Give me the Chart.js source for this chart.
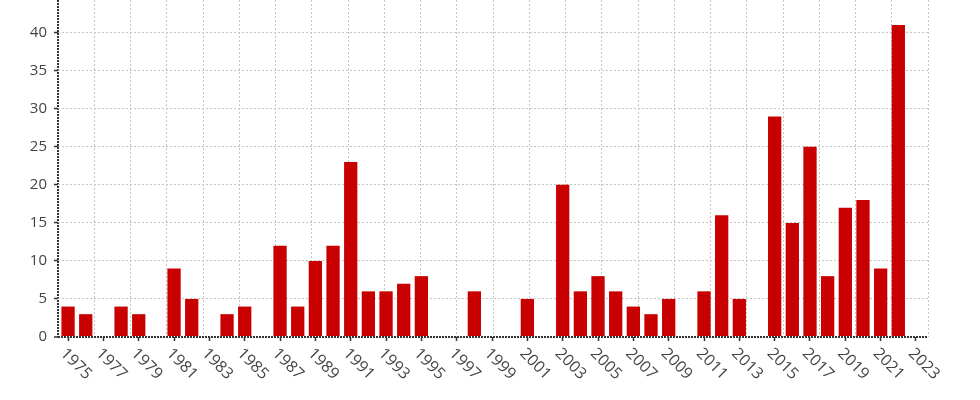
<!DOCTYPE html>
<html>
<head>
<meta charset="utf-8">
<script src="https://cdn.jsdelivr.net/npm/chart.js@4.4.0/dist/chart.umd.min.js"></script>
<style>
  html, body { margin: 0; padding: 0; background: #fff; }
  #wrap { width: 980px; height: 400px; }
</style>
</head>
<body>
<div id="wrap"><canvas id="bar-chart"></canvas></div>
<script>
"use strict";

const years = [
  1975, 1976, 1977, 1978, 1979, 1980, 1981, 1982, 1983, 1984, 1985, 1986,
  1987, 1988, 1989, 1990, 1991, 1992, 1993, 1994, 1995, 1996, 1997, 1998,
  1999, 2000, 2001, 2002, 2003, 2004, 2005, 2006, 2007, 2008, 2009, 2010,
  2011, 2012, 2013, 2014, 2015, 2016, 2017, 2018, 2019, 2020, 2021, 2022,
];
const counts = [
  4, 3, 0, 4, 3, 0, 9, 5, 0, 3, 4, 0,
  12, 4, 10, 12, 23, 6, 6, 7, 8, 0, 0, 6,
  0, 0, 5, 0, 20, 6, 8, 6, 4, 3, 5, 0,
  6, 16, 5, 0, 29, 15, 25, 8, 17, 18, 9, 41,
];
const tickYears = [
  1975, 1977, 1979, 1981, 1983, 1985, 1987, 1989, 1991, 1993, 1995, 1997,
  1999, 2001, 2003, 2005, 2007, 2009, 2011, 2013, 2015, 2017, 2019, 2021, 2023,
];
const yTicks = [0, 5, 10, 15, 20, 25, 30, 35, 40];

Chart.defaults.font.family = "'Open Sans'";

const GRID = "#c4c4c4";
const AXIS = "#333";
// the axis lines are the dark dashed grid line at value 0
const isZero = (ctx) => ctx.tick && ctx.tick.value === 0;

// year labels run down to the right, which the built-in rotation can't do
const yearLabels = {
  id: "yearLabels",
  afterDraw(chart) {
    const { ctx } = chart;
    const x = chart.scales.x;
    ctx.save();
    ctx.font = "16px 'Open Sans'";
    ctx.fillStyle = "#444";
    ctx.textAlign = "left";
    ctx.textBaseline = "middle";
    tickYears.forEach((year) => {
      ctx.save();
      ctx.translate(x.getPixelForValue(year) - 5, x.top + 14);
      ctx.rotate(Math.PI / 4);
      ctx.fillText(String(year), 0, 0);
      ctx.restore();
    });
    ctx.restore();
  },
};

new Chart(document.getElementById("bar-chart"), {
  type: "bar",
  data: {
    datasets: [
      {
        label: "count",
        data: years.map((year, i) => ({ x: year, y: counts[i] })),
        backgroundColor: "#c80000",
        borderWidth: 0,
        categoryPercentage: 0.8,
        barPercentage: 0.94,
        xAxisID: "x",
        yAxisID: "y",
      },
    ],
  },
  options: {
    responsive: true,
    maintainAspectRatio: false,
    animation: false,
    layout: { padding: { left: 0, right: 52, top: 0, bottom: 0 } },
    plugins: {
      legend: { display: false },
      tooltip: { enabled: false },
    },
    scales: {
      x: {
        type: "linear",
        position: "bottom",
        min: 1974.43,
        max: 2023.68,
        offset: false,
        afterBuildTicks: (scale) => {
          scale.ticks = tickYears.map((v) => ({ value: v }));
        },
        afterFit: (scale) => {
          scale.height = 63;
          scale.paddingLeft = 0;
          scale.paddingRight = 0;
        },
        ticks: { display: false },
        grid: {
          offset: false,
          drawOnChartArea: false,
          drawTicks: true,
          tickLength: 4,
          tickColor: AXIS,
          tickWidth: 1.5,
        },
        border: { display: false },
      },
      // vertical grid: 24 even divisions of the plot, not tied to the year ticks
      xg: {
        type: "linear",
        position: "bottom",
        min: 0,
        max: 24,
        offset: false,
        afterBuildTicks: (scale) => {
          scale.ticks = Array.from({ length: 25 }, (_, i) => ({ value: i }));
        },
        ticks: { display: false },
        grid: {
          offset: false,
          color: (ctx) => (isZero(ctx) ? AXIS : GRID),
          lineWidth: (ctx) => (isZero(ctx) ? 2 : 1),
          drawTicks: false,
        },
        border: { display: false, dash: (ctx) => (isZero(ctx) ? [2, 1] : [2, 2]) },
      },
      y: {
        min: 0,
        max: 44.3,
        afterBuildTicks: (scale) => {
          scale.ticks = yTicks.map((v) => ({ value: v }));
        },
        afterFit: (scale) => {
          scale.width = 58;
          scale.paddingTop = 0;
          scale.paddingBottom = 0;
        },
        ticks: {
          color: "#444",
          font: { size: 15 },
          padding: 7,
        },
        grid: {
          color: (ctx) => (isZero(ctx) ? AXIS : GRID),
          lineWidth: (ctx) => (isZero(ctx) ? 2 : 1),
          tickColor: AXIS,
          tickLength: 4,
          tickWidth: 1.5,
          tickBorderDash: [],
        },
        border: { display: false, dash: (ctx) => (isZero(ctx) ? [2, 1] : [2, 2]) },
      },
    },
  },
  plugins: [yearLabels],
});
</script>
</body>
</html>
